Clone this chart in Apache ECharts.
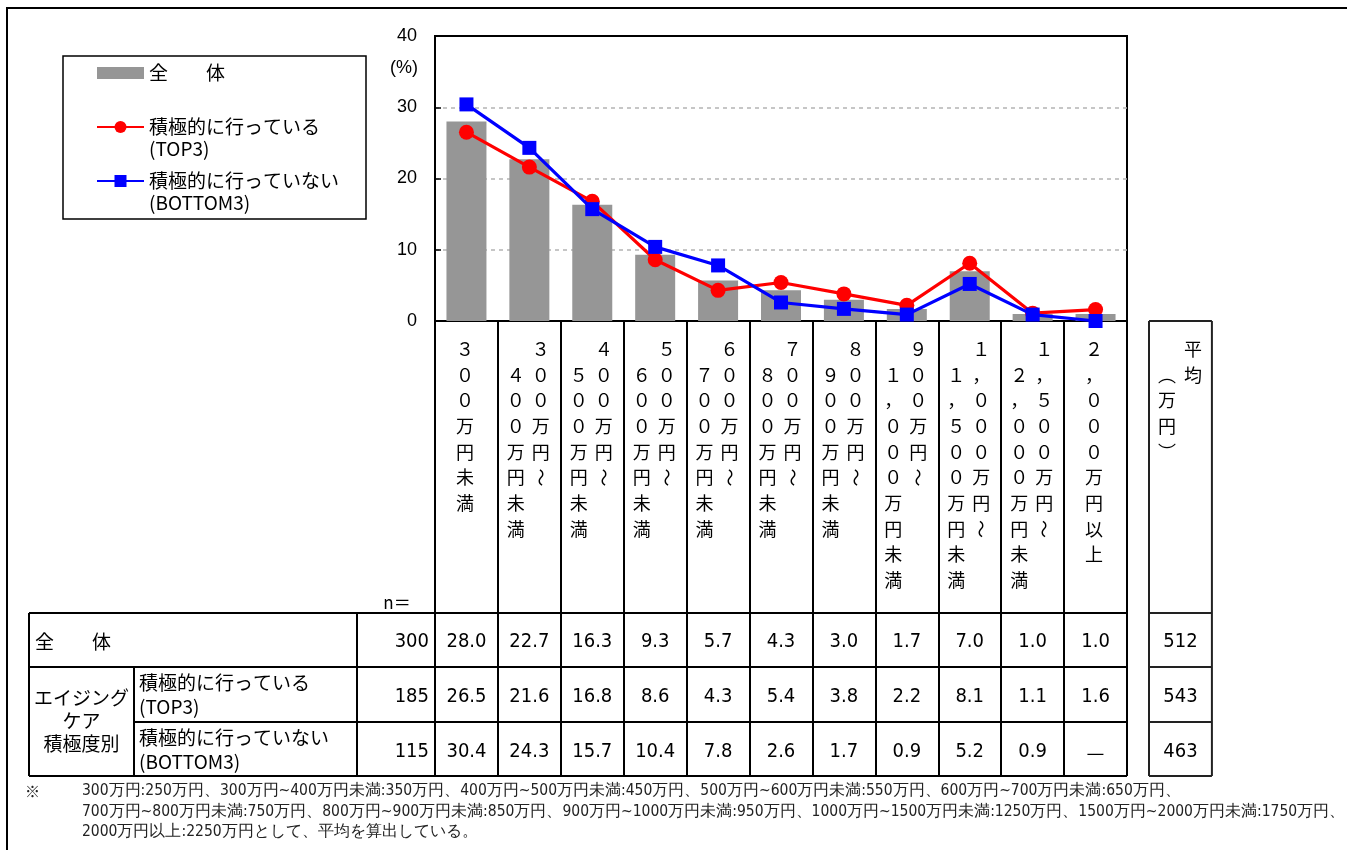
<!DOCTYPE html>
<html><head><meta charset="utf-8">
<script src="https://cdn.jsdelivr.net/npm/echarts@6/dist/echarts.min.js"></script>
<style>html,body{margin:0;padding:0;background:#fff}#c{width:1347px;height:850px}</style>
</head><body><div id="c"></div>
<script>
const categories = ['300万円未満','300万円～400万円未満','400万円～500万円未満','500万円～600万円未満','600万円～700万円未満','700万円～800万円未満','800万円～900万円未満','900万円～1,000万円未満','1,000万円～1,500万円未満','1,500万円～2,000万円未満','2,000万円以上'];
const seriesNames = ['全　　体','積極的に行っている(TOP3)','積極的に行っていない(BOTTOM3)'];
const totalValues = [28.0,22.7,16.3,9.3,5.7,4.3,3.0,1.7,7.0,1.0,1.0];
const top3Values = [26.5,21.6,16.8,8.6,4.3,5.4,3.8,2.2,8.1,1.1,1.6];
const bottom3Values = [30.4,24.3,15.7,10.4,7.8,2.6,1.7,0.9,5.2,0.9,0];
const nValues = [300,185,115];
const avgValues = [512,543,463];
const yTicks = [0,10,20,30,40];
const yUnit = '(%)';
const avgHeader = ['平均','︵万円︶'];
const nLabel = 'n＝';
const rowLabels = ['全　　体','積極的に行っている\n(TOP3)','積極的に行っていない\n(BOTTOM3)'];
const groupLabel = 'エイジング\nケア\n積極度別';
const footnoteMark = '※';
const footnoteLines = [
 '300万円:250万円、300万円~400万円未満:350万円、400万円~500万円未満:450万円、500万円~600万円未満:550万円、600万円~700万円未満:650万円、',
 '700万円~800万円未満:750万円、800万円~900万円未満:850万円、900万円~1000万円未満:950万円、1000万円~1500万円未満:1250万円、1500万円~2000万円未満:1750万円、',
 '2000万円以上:2250万円として、平均を算出している。'
];

const FONT_JP = '"Noto Sans CJK JP", sans-serif';
const FONT_NUM = '"Liberation Sans Narrow", "DejaVu Sans Condensed", "Liberation Sans", sans-serif';
const FONT_AX = '"Liberation Sans", Arial, sans-serif';

const chart = echarts.init(document.getElementById('c'));
chart.setOption({
  animation: false,
  grid: {left: 435, right: 220, top: 36, bottom: 529, show: true, borderColor: '#000', borderWidth: 2},
  legend: {
    orient: 'vertical', left: 96, top: 40, padding: 0, itemGap: -12, itemWidth: 47, itemHeight: 15,
    selectedMode: false,
    textStyle: {fontSize: 19, fontFamily: FONT_JP, color: '#000', lineHeight: 22},
    formatter: function (name) {
      const i = name.indexOf('(');
      if (i < 0) return '\n' + name + '\n';
      return '\n' + name.slice(0, i) + '\n' + name.slice(i);
    },
    data: [
      {name: seriesNames[0], icon: 'path://M0,0H47V12H0Z'},
      {name: seriesNames[1]},
      {name: seriesNames[2]}
    ]
  },
  xAxis: {
    type: 'category', data: categories, boundaryGap: true,
    axisLabel: {show: false, interval: 0},
    axisLine: {lineStyle: {color: '#000', width: 2}},
    axisTick: {show: true, interval: 0, length: 455, lineStyle: {color: '#000', width: 2}},
    splitLine: {show: false}
  },
  yAxis: {
    type: 'value', min: yTicks[0], max: yTicks[yTicks.length - 1], interval: yTicks[1] - yTicks[0],
    axisLine: {show: true, lineStyle: {color: '#000', width: 2}},
    axisTick: {show: true, inside: true, length: 6, lineStyle: {color: '#000', width: 1.5}},
    axisLabel: {color: '#000', fontSize: 18, fontFamily: FONT_AX, margin: 18},
    splitLine: {show: true, showMinLine: false, showMaxLine: false, lineStyle: {color: '#b4b4b4', width: 1.5, type: [4, 4]}}
  },
  series: [
    {name: seriesNames[0], type: 'bar', data: totalValues, barWidth: 40, itemStyle: {color: '#969696'}, z: 1},
    {name: seriesNames[1], type: 'line', data: top3Values, symbol: 'circle', symbolSize: 15,
     itemStyle: {color: '#ff0000'}, lineStyle: {color: '#ff0000', width: 3.2}, z: 3},
    {name: seriesNames[2], type: 'line', data: bottom3Values, symbol: 'rect', symbolSize: 14,
     itemStyle: {color: '#0000ff'}, lineStyle: {color: '#0000ff', width: 3.2}, z: 4}
  ]
});

// ---- layout derived from the chart's own scales ----
const n = categories.length;
const px = i => chart.convertToPixel({xAxisIndex: 0}, i);
const band = px(1) - px(0);
const plotL = px(0) - band / 2;
const plotR = px(n - 1) + band / 2;
const yZero = chart.convertToPixel({yAxisIndex: 0}, 0);
const yTop = chart.convertToPixel({yAxisIndex: 0}, yTicks[yTicks.length - 1]);

const rowBounds = [613, 667, 722, 776];
const rowMid = [642, 697, 752];
const tableLeft = 29, subColX = 134, nColX = 357;
const avgL = plotR + 22, avgR = avgL + band, avgC = (avgL + avgR) / 2;

const g = [];
function line(x1, y1, x2, y2, color, w) {
  g.push({type: 'line', silent: true, shape: {x1, y1, x2, y2}, style: {stroke: color || '#000', lineWidth: w || 2}, z: 50});
}
function text(t, x, y, opt) {
  g.push({type: 'text', silent: true, z: 60, style: Object.assign({text: t, x, y, fill: '#000', fontSize: 19, fontFamily: FONT_JP, align: 'left', verticalAlign: 'middle'}, opt || {})});
}

// outer frame
g.push({type: 'polyline', silent: true, shape: {points: [[7, 850], [7, 8], [1347, 8]]}, style: {stroke: '#000', lineWidth: 2, fill: null}, z: 50});
// plot top edge
line(plotL, yTop, plotR, yTop);
// legend box
g.push({type: 'rect', silent: true, shape: {x: 63, y: 56, width: 303, height: 163}, style: {stroke: '#000', lineWidth: 1.5, fill: null}, z: 40});
// y unit
text(yUnit, plotL - 31, 68, {fontSize: 18, fontFamily: FONT_AX, align: 'center'});

// vertical category labels (one glyph per row)
const fwMap = {'0':'０','1':'１','2':'２','3':'３','4':'４','5':'５','6':'６','7':'７','8':'８','9':'９',',':'，'};
const LH = 25.7, firstRow = 349;
function vcol(s, x, row) {
  s.split('').forEach((c, j) => {
    const cy = firstRow + (row + j) * LH;
    if (c === '～') {
      g.push({type: 'text', silent: true, z: 60, x: x, y: cy, rotation: -Math.PI / 2,
        style: {text: '～', x: 0, y: 0, align: 'center', verticalAlign: 'middle', fontSize: 18, fontFamily: FONT_JP, fill: '#000'}});
    } else {
      text(fwMap[c] || c, x, cy, {align: 'center', fontSize: 18});
    }
  });
}
categories.forEach((c, i) => {
  const cx = px(i);
  const k = c.indexOf('～');
  if (k < 0) {
    vcol(c, cx - 1.5, 0);
  } else {
    vcol(c.slice(0, k + 1), cx + 11.5, 0);
    vcol(c.slice(k + 1), cx - 13.5, 1);
  }
});
// average header
vcol(avgHeader[0], avgC + 12.5, 0);
vcol(avgHeader[1], avgC - 13.5, 1);
text(nLabel, 397, 603, {align: 'center', fontSize: 17});

// table lines
line(tableLeft, rowBounds[0], plotR, rowBounds[0]);
line(tableLeft, rowBounds[1], plotR, rowBounds[1]);
line(subColX, rowBounds[2], plotR, rowBounds[2]);
line(tableLeft, rowBounds[3], plotR, rowBounds[3]);
line(tableLeft, rowBounds[0], tableLeft, rowBounds[3]);
line(subColX, rowBounds[1], subColX, rowBounds[3]);
line(nColX, rowBounds[0], nColX, rowBounds[3]);
// average box
line(avgL, yZero, avgL, rowBounds[3], '#222');
line(avgR, yZero, avgR, rowBounds[3], '#222');
[yZero].concat(rowBounds).forEach(y => line(avgL, y, avgR, y, '#222'));

// row labels
text(rowLabels[0], 35, rowMid[0]);
text(groupLabel, (tableLeft + subColX) / 2, (rowBounds[1] + rowBounds[3]) / 2 - 1, {align: 'center', lineHeight: 23});
text(rowLabels[1], 139, 695, {lineHeight: 24});
text(rowLabels[2], 139, 750, {lineHeight: 24});

// values
const rows = [totalValues, top3Values, bottom3Values];
rows.forEach((arr, r) => {
  text(String(nValues[r]), 429, rowMid[r], {align: 'right', fontFamily: FONT_NUM, fontSize: 20});
  arr.forEach((v, i) => {
    const t = v === 0 ? '—' : v.toFixed(1);
    text(t, px(i), rowMid[r], {align: 'center', fontFamily: v === 0 ? FONT_JP : FONT_NUM, fontSize: 20});
  });
  text(String(avgValues[r]), avgC, rowMid[r], {align: 'center', fontFamily: FONT_NUM, fontSize: 20});
});

// footnote
text(footnoteMark, 25, 791, {fontSize: 15, fill: '#222'});
footnoteLines.forEach((t, i) => text(t, 82, 791 + i * 20.5, {fontSize: 15.5, fontFamily: FONT_NUM, fill: '#222'}));

chart.setOption({graphic: {elements: g}});
</script>
</body></html>
